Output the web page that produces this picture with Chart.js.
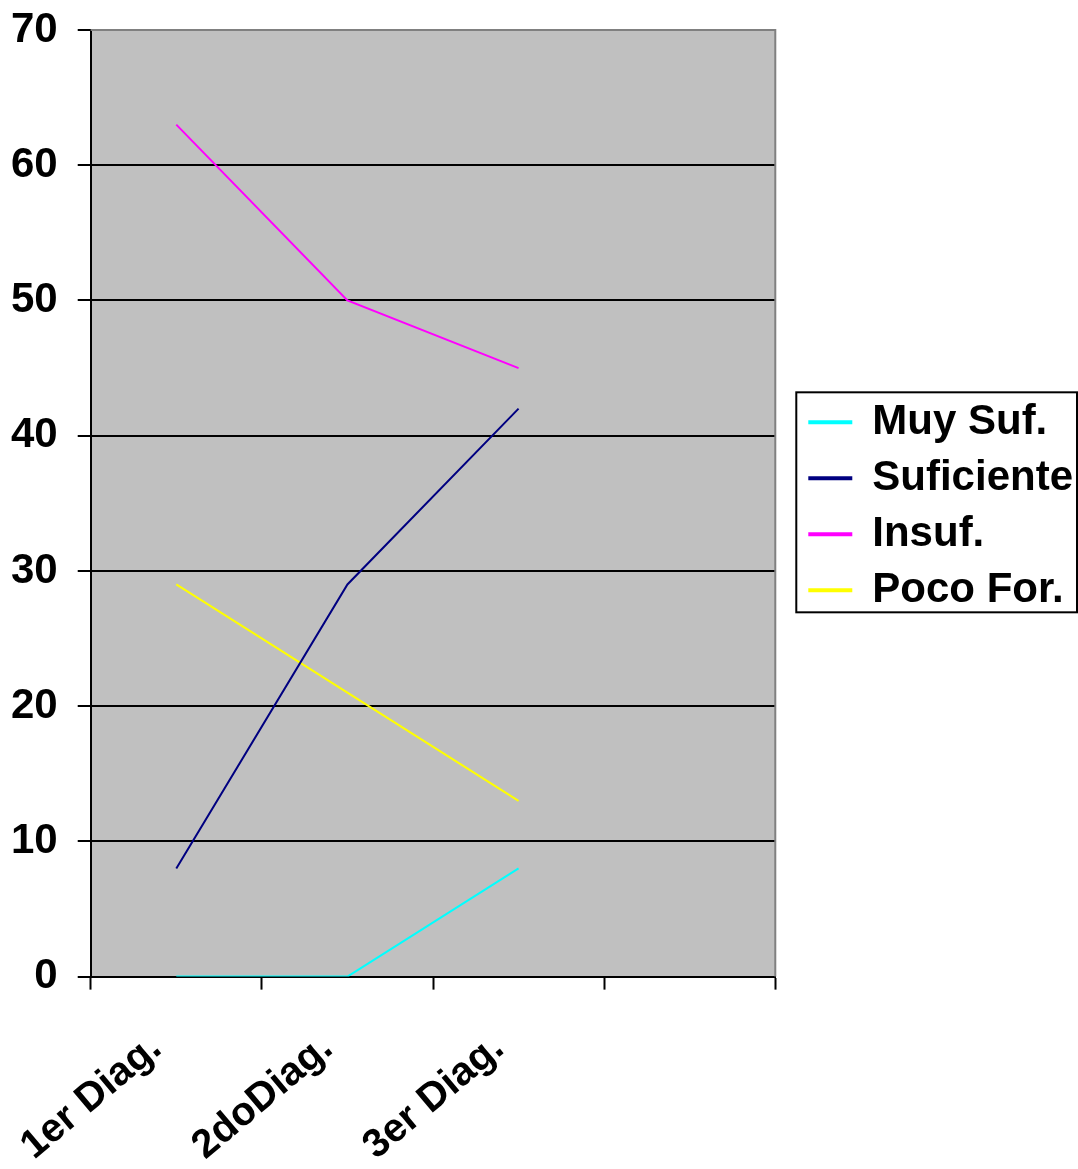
<!DOCTYPE html>
<html>
<head>
<meta charset="utf-8">
<script src="https://cdn.jsdelivr.net/npm/chart.js@4"></script>
<style>
  html, body { margin: 0; padding: 0; background: #fff; }
  #wrap { width: 1078px; height: 1169px; }
</style>
</head>
<body>
<div id="wrap"><canvas id="grafico"></canvas></div>
<script>
const categorias = ['1er Diag.', '2doDiag.', '3er Diag.', ''];
const muySuf = [0, 0, 8, null];
const suficiente = [8, 29, 42, null];
const insuf = [63, 50, 45, null];
const pocoFor = [29, 21, 13, null];

const fuente = "'Liberation Sans', Arial, sans-serif";

// fondo gris y borde del area de trazado
const fondoPlot = {
  id: 'fondoPlot',
  beforeDraw(chart) {
    const a = chart.chartArea;
    const ctx = chart.ctx;
    ctx.save();
    ctx.fillStyle = '#C0C0C0';
    ctx.fillRect(a.left, a.top, a.right - a.left, a.bottom - a.top);
    ctx.restore();
  },
  beforeDatasetsDraw(chart) {
    const a = chart.chartArea;
    const ctx = chart.ctx;
    ctx.save();
    ctx.strokeStyle = '#808080';
    ctx.lineWidth = 2;
    ctx.beginPath();
    ctx.moveTo(a.left, a.top);
    ctx.lineTo(a.right, a.top);
    ctx.lineTo(a.right, a.bottom);
    ctx.stroke();
    ctx.restore();
  }
};

// separa la leyenda del area de trazado y le pone marco
const marcoLeyenda = {
  id: 'marcoLeyenda',
  afterLayout(chart) {
    const leg = chart.legend;
    const dx = chart.chartArea.right + 20 - leg.left;
    leg.left += dx;
    leg.right += dx;
    leg.top += 3;
    leg.bottom += 3;
  },
  afterDraw(chart) {
    const cajas = chart.legend.legendHitBoxes;
    if (!cajas || !cajas.length) return;
    let x1 = Infinity, y1 = Infinity, x2 = -Infinity, y2 = -Infinity;
    cajas.forEach(c => {
      x1 = Math.min(x1, c.left); y1 = Math.min(y1, c.top);
      x2 = Math.max(x2, c.left + c.width); y2 = Math.max(y2, c.top + c.height);
    });
    const ctx = chart.ctx;
    ctx.save();
    ctx.strokeStyle = '#000';
    ctx.lineWidth = 2;
    ctx.strokeRect(x1 - 13, y1 - 9, Math.min(x2 + 6, chart.width - 1) - x1 + 13, y2 - y1 + 10);
    ctx.restore();
  }
};

new Chart(document.getElementById('grafico'), {
  type: 'line',
  data: {
    labels: categorias,
    datasets: [{
      label: 'Muy Suf.',
      data: muySuf,
      borderColor: '#00FFFF',
      backgroundColor: '#00FFFF',
      borderWidth: 2
    },
    {
      label: 'Suficiente',
      data: suficiente,
      borderColor: '#000080',
      backgroundColor: '#000080',
      borderWidth: 2
    },
    {
      label: 'Insuf.',
      data: insuf,
      borderColor: '#FF00FF',
      backgroundColor: '#FF00FF',
      borderWidth: 2
    },
    {
      label: 'Poco For.',
      data: pocoFor,
      borderColor: '#FFFF00',
      backgroundColor: '#FFFF00',
      borderWidth: 2
    }]
  },
  options: {
    responsive: true,
    maintainAspectRatio: false,
    animation: false,
    elements: { point: { radius: 0 }, line: { tension: 0 } },
    layout: { padding: { left: -9, top: 30, right: 15, bottom: -36 } },
    plugins: {
      tooltip: { enabled: false },
      legend: {
        position: 'right',
        fullSize: false,
        maxWidth: 340,
        labels: {
          boxWidth: 42,
          boxHeight: 2,
          padding: 14,
          color: '#000',
          font: { size: 42, weight: 'bold', family: fuente }
        }
      }
    },
    scales: {
      x: {
        offset: true,
        afterFit(s) { s.paddingLeft = 0; s.paddingRight = 0; },
        grid: {
          offset: true,
          drawOnChartArea: false,
          tickLength: 13,
          tickColor: '#000',
          tickWidth: 2
        },
        border: { color: '#000', width: 2 },
        ticks: {
          color: '#000',
          minRotation: 40,
          maxRotation: 40,
          padding: 35,
          labelOffset: -20,
          font: { size: 40, weight: 'bold', family: fuente }
        }
      },
      y: {
        min: 0,
        max: 70,
        afterFit(s) { s.paddingTop = 0; s.paddingBottom = 0; },
        grid: {
          color: ctx => ctx.tick && ctx.tick.value === 70 ? '#808080' : '#000',
          lineWidth: 2,
          tickLength: 13,
          tickColor: '#000',
          tickWidth: 2
        },
        border: { color: '#000', width: 2 },
        ticks: {
          stepSize: 10,
          color: '#000',
          padding: 20,
          font: { size: 42, weight: 'bold', family: fuente }
        }
      }
    }
  },
  plugins: [fondoPlot, marcoLeyenda]
});
</script>
</body>
</html>
